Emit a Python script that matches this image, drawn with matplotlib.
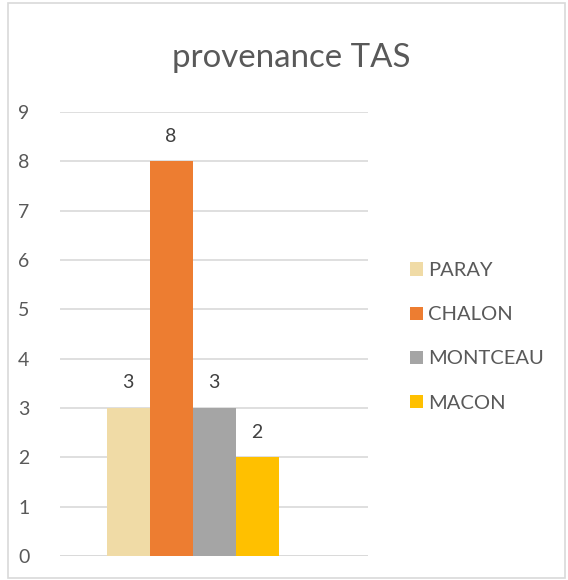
import matplotlib
matplotlib.use("Agg")
import matplotlib.pyplot as plt
from matplotlib.patches import Rectangle

categories = ["PARAY", "CHALON", "MONTCEAU", "MACON"]
values = [3, 8, 3, 2]
colors = ["#F0DBA6", "#ED7D31", "#A5A5A5", "#FFC000"]
yticks = list(range(0, 10))
title = "provenance TAS"

plt.rcParams['font.family'] = ['Lato', 'DejaVu Sans']

W, H = 568, 580
fig = plt.figure(figsize=(W / 100, H / 100), dpi=100)
fig.patches.append(Rectangle((8 / W, 2 / H), (W - 11) / W, (H - 5) / H,
                             transform=fig.transFigure, fill=False,
                             edgecolor="#D9D9D9", linewidth=1.2))

ax = fig.add_axes([60 / W, 1 - 556 / H, 308 / W, (556 - 112) / H])
bw = 43 / 308
n = len(values)
for i, (c, v, col) in enumerate(zip(categories, values, colors)):
    x = (i - (n - 1) / 2) * bw
    ax.bar(x, v, width=bw, color=col, label=c, zorder=3, linewidth=0)
    ax.annotate(str(v), (x, v), xytext=(0, 12), textcoords="offset points",
                ha="center", va="bottom", fontsize=14, color="#404040")

ax.set_xlim(-(192.5 - 60) / 308, (368 - 192.5) / 308)
ax.set_ylim(0, 9)
ax.set_yticks(yticks)
ax.set_yticklabels([str(t) for t in yticks], fontsize=14, color="#595959")
ax.set_xticks([])
ax.tick_params(axis="y", length=0, pad=22)
ax.grid(axis="y", color="#D9D9D9", linewidth=1.2, zorder=0)
for s in ax.spines.values():
    s.set_visible(False)
ax.axhline(0, color="#D9D9D9", linewidth=1.2, zorder=2)

fig.text(291 / W, 1 - 58 / H, title, ha="center", va="center",
         fontsize=23.8, color="#595959")

leg = fig.legend(loc="upper left", bbox_to_anchor=(392 / W, 1 - 244 / H),
                 frameon=False, fontsize=14.5, handlelength=0.65,
                 handleheight=0.65, handletextpad=0.25, labelspacing=1.35,
                 labelcolor="#595959")

fig.savefig("out.png", dpi=100)
